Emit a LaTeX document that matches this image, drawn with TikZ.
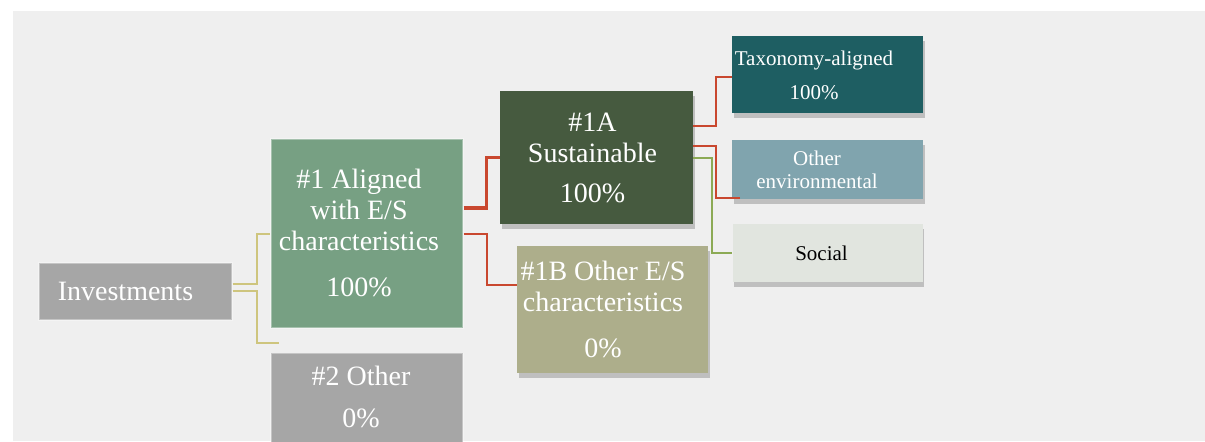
\documentclass[tikz,border=0pt]{standalone}
\usepackage{fontspec}
\setmainfont{Liberation Serif}
\usepackage{tikz}
\usetikzlibrary{positioning,shadows}

\definecolor{panelgray}{HTML}{EFEFEF}
\definecolor{invgray}{HTML}{A6A6A6}
\definecolor{alignedgreen}{HTML}{77A083}
\definecolor{sustgreen}{HTML}{465A3F}
\definecolor{olivebox}{HTML}{ADAE8B}
\definecolor{taxoteal}{HTML}{1E5E62}
\definecolor{envblue}{HTML}{80A4AE}
\definecolor{socialgray}{HTML}{E1E5DF}
\definecolor{linkyellow}{HTML}{CEC57E}
\definecolor{linkred}{HTML}{C9482F}
\definecolor{linkgreen}{HTML}{8CAA55}

% centred lines, pushed left by half of #1 and a little down
\newcommand\boxlines[2]{\raisebox{-1.5pt}[\height][\depth]{\begin{tabular}{@{}c@{\hspace{#1}}}#2\end{tabular}}}

\begin{document}
\begin{tikzpicture}[
    x=0.5pt, y=-0.5pt,
    box/.style={inner sep=1pt, text=white, font=\fontsize{14}{15.5}\selectfont},
    smallbox/.style={box, font=\fontsize{10.5}{11.5}\selectfont},
    flat/.style={draw=white, draw opacity=0.35, line width=0.6pt},
    lifted/.style={drop shadow={shadow xshift=0.8pt, shadow yshift=-2.5pt, fill=black, opacity=0.2}},
    link/.style={line width=1pt}
  ]
  % page and grey panel
  \clip (0,0) rectangle (1205,441);
  \fill[white] (0,0) rectangle (1205,441);
  \fill[panelgray] (13,11) rectangle (1205,441);

  % first levels
  \node[box, flat, fill=invgray, minimum width=96.5pt, minimum height=28.5pt] (inv) at (135.5,291.5)
    {\boxlines{10pt}{Investments}};
  \node[box, flat, fill=alignedgreen, minimum width=96pt, minimum height=94.5pt] (aligned) at (367,233.5)
    {\boxlines{8pt}{\#1 Aligned\\with E/S\\characteristics\\[7.5pt]100\%}};
  \node[box, flat, fill=invgray, minimum width=96pt, minimum height=44.5pt, below=12pt of aligned] (other)
    {\boxlines{6pt}{\#2 Other\\[5.5pt]0\%}};

  % sustainable and other E/S
  \node[box, lifted, fill=sustgreen, minimum width=96.5pt, minimum height=66.5pt] (sust) at (596.5,157.5)
    {\boxlines{4pt}{\#1A\\Sustainable\\[4.5pt]100\%}};
  \node[box, lifted, fill=olivebox, minimum width=95.5pt, minimum height=63.5pt, below=10.5pt of sust, xshift=8pt] (otheres)
    {\boxlines{9.5pt}{\#1B Other E/S\\characteristics\\[7.5pt]0\%}};

  % sub-categories
  \node[smallbox, lifted, fill=taxoteal, minimum width=95.5pt, minimum height=38.5pt] (taxo) at (827.5,74.5)
    {\boxlines{13.5pt}{Taxonomy-aligned\\[5.5pt]100\%}};
  \node[smallbox, lifted, fill=envblue, minimum width=95.5pt, minimum height=29.5pt, below=13pt of taxo] (otherenv)
    {\boxlines{10.5pt}{Other\\environmental}};
  \node[smallbox, lifted, fill=socialgray, text=black, minimum width=95pt, minimum height=29pt, below=12pt of otherenv] (social)
    {\boxlines{6pt}{Social}};

  % connectors
  \draw[link, linkyellow] ([yshift=3.75pt]inv.east) -- ++(12pt,0) |- (aligned.west);
  \draw[link, linkyellow] ([yshift=0.25pt]inv.east) -- ++(12pt,0) |- ([xshift=4.5pt,yshift=5pt]other.north west);
  \draw[link, linkred, line width=1.6pt] ([yshift=12.75pt]aligned.east) -- ++(11.5pt,0) |- (sust.west);
  \draw[link, linkred] ([yshift=-0.25pt]aligned.east) -- ++(11.5pt,0) |- ([yshift=12.25pt]otheres.west);
  \draw[link, linkred] ([yshift=16pt]sust.east) -- ++(11.5pt,0) |- ([yshift=-1.25pt]taxo.west);
  \draw[link, linkred] ([yshift=5.75pt]sust.east) -- ++(11.5pt,0) |- ([xshift=4pt,yshift=0.5pt]otherenv.south west);
  \draw[link, linkgreen] ([yshift=-0.25pt]sust.east) -- ++(9.5pt,0) |- (social.west);
\end{tikzpicture}
\end{document}
